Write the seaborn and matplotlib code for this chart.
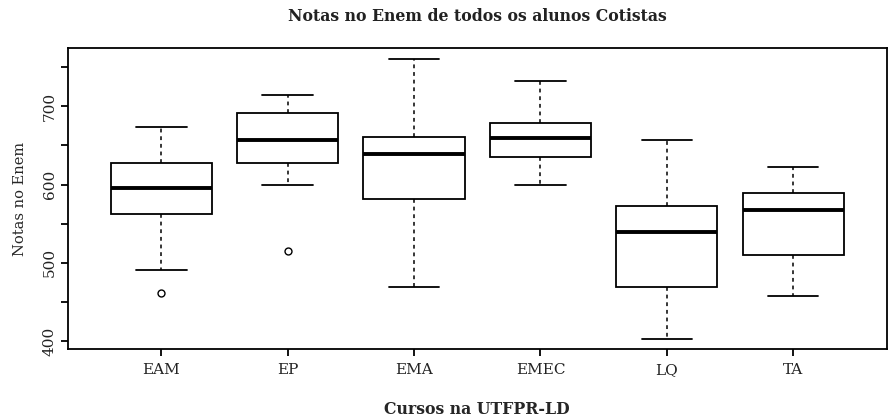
import pandas as pd
import seaborn as sns
import matplotlib.pyplot as plt
import numpy as np

# five-number summaries (Notas no Enem)
cursos = ["EAM", "EP", "EMA", "EMEC", "LQ", "TA"]
whis_lo = [491, 600, 469, 600, 402, 457.5]
q1 = [562, 627.7, 581, 635.8, 468.5, 510]
medianas = [596, 657, 639.6, 659.6, 539.6, 567.7]
q3 = [627.7, 691, 661, 679, 572, 589.8]
whis_hi = [674, 714, 760, 732, 657, 623]
outliers = [[461.7], [515], [], [], [], []]

## table built so that the quartiles land on the values above (13 pts each) ##
rows = []
for i, c in enumerate(cursos):
    if outliers[i]:
        vals = outliers[i] + [whis_lo[i]] + [q1[i]] * 2
    else:
        vals = [whis_lo[i]] + [q1[i]] * 3
    vals += [medianas[i]] * 3 + [q3[i]] * 3 + [whis_hi[i]] * 3
    for v in vals:
        rows.append({"curso": c, "nota": v})
df = pd.DataFrame(rows)

sns.set_style("ticks")
plt.rcParams["font.family"] = ["DejaVu Serif"]
plt.rcParams["text.color"] = "#222222"

fig = plt.figure(figsize=(8.9, 4.17), dpi=100)
ax = fig.add_axes([0.0761, 0.1624, 0.9202, 0.7218])

sns.boxplot(data=df, x="curso", y="nota", order=cursos, ax=ax,
            color="white", linecolor="black", linewidth=1.3, width=0.8,
            whis=1.5, fliersize=5,
            medianprops={"linewidth": 2.8, "solid_capstyle": "butt"},
            whiskerprops={"linestyle": (0, (2.5, 2.5)), "linewidth": 1.1},
            capprops={"linewidth": 1.3},
            flierprops={"marker": "o", "markerfacecolor": "none",
                        "markeredgecolor": "black", "markeredgewidth": 1.0})

ax.set_xlim(-0.74, 5.74)
ax.set_ylim(389.5, 774.2)
ax.set_yticks(np.arange(400, 751, 50))
ax.set_yticklabels(["400", "", "500", "", "600", "", "700", ""],
                   rotation=90, va="center")
for sp in ax.spines.values():
    sp.set_visible(True)
    sp.set_linewidth(1.3)
    sp.set_color("black")
ax.tick_params(axis="both", length=5, width=1.3, labelsize=11,
               colors="black", labelcolor="#222222")
ax.tick_params(axis="x", pad=5)
ax.tick_params(axis="y", pad=3)

ax.set_xlabel("Cursos na UTFPR-LD", fontsize=11.3, fontweight="bold", labelpad=17)
ax.set_ylabel("Notas no Enem", fontsize=10.5, labelpad=11)
ax.set_title("Notas no Enem de todos os alunos Cotistas", fontsize=11.3,
             fontweight="bold", pad=20)

plt.savefig("out.png", dpi=100)
